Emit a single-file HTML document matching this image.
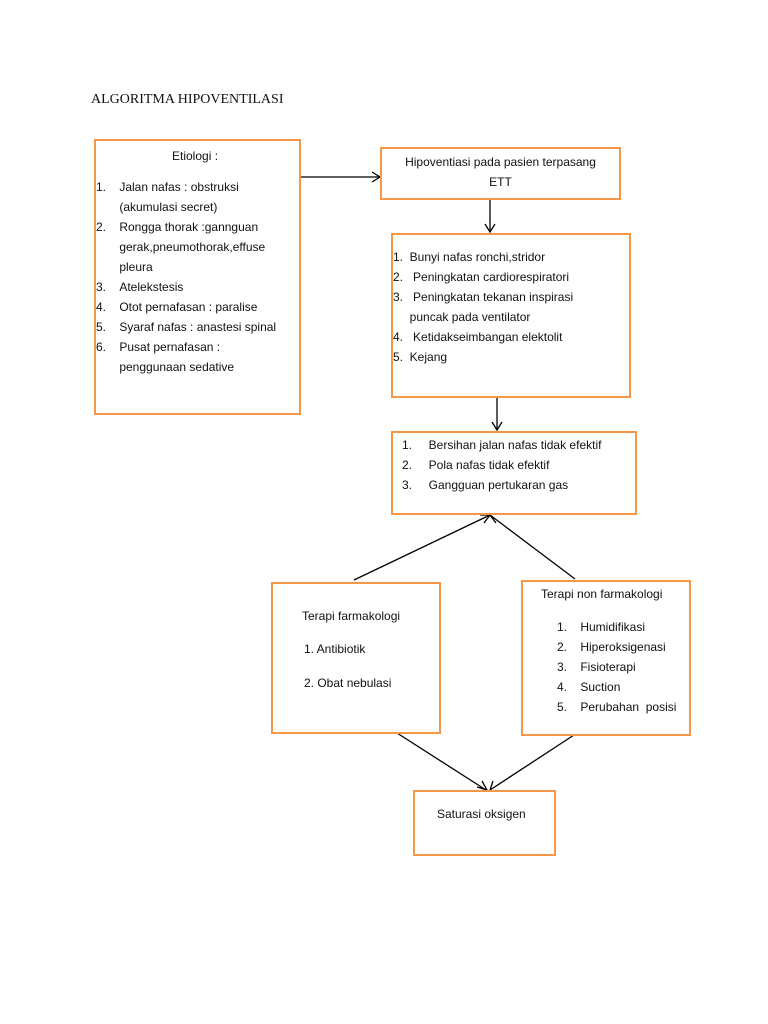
<!DOCTYPE html>
<html><head><meta charset="utf-8"><style>
body{margin:0;width:768px;height:1024px;background:#fff;position:relative;font-family:"Liberation Sans",sans-serif;color:#111}
.b{position:absolute;border:2.5px solid #f79646;box-sizing:border-box;background:#fff}
.t{position:absolute;font-size:12px;line-height:20px;white-space:nowrap}
h1{position:absolute;left:91px;top:92px;margin:0;font:14px "Liberation Serif",serif}
</style></head><body>
<h1>ALGORITMA HIPOVENTILASI</h1>
<svg width="768" height="1024" style="position:absolute;left:0;top:0">
<g stroke="#000" stroke-width="1.3" fill="none">
<line x1="300" y1="177" x2="380" y2="177"/><polyline points="372,172 380,177 372,182"/>
<line x1="490" y1="199" x2="490" y2="232"/><polyline points="485,224 490,232 495,224"/>
<line x1="497" y1="397" x2="497" y2="430"/><polyline points="492,422 497,430 502,422"/>
<line x1="354" y1="580" x2="490" y2="515"/><line x1="575" y1="579" x2="490" y2="515"/>
<polyline points="480,515 490,515 484,523"/><polyline points="490,515 496,523"/>
<line x1="397" y1="733" x2="486" y2="790"/><line x1="574" y1="735" x2="490" y2="790"/>
<polyline points="477,787 487,790 482,781"/><polyline points="490,790 493,781"/>
</g></svg>
<div class="b" style="left:94px;top:139px;width:207px;height:276px"></div>
<div class="t" style="left:172px;top:146px">Etiologi :</div>
<div class="t" style="left:96px;top:177px">1.&nbsp;&nbsp;&nbsp;&nbsp;Jalan nafas : obstruksi<br>&nbsp;&nbsp;&nbsp;&nbsp;&nbsp;&nbsp;&nbsp;(akumulasi secret)<br>2.&nbsp;&nbsp;&nbsp;&nbsp;Rongga thorak :gannguan<br>&nbsp;&nbsp;&nbsp;&nbsp;&nbsp;&nbsp;&nbsp;gerak,pneumothorak,effuse<br>&nbsp;&nbsp;&nbsp;&nbsp;&nbsp;&nbsp;&nbsp;pleura<br>3.&nbsp;&nbsp;&nbsp;&nbsp;Atelekstesis<br>4.&nbsp;&nbsp;&nbsp;&nbsp;Otot pernafasan : paralise<br>5.&nbsp;&nbsp;&nbsp;&nbsp;Syaraf nafas : anastesi spinal<br>6.&nbsp;&nbsp;&nbsp;&nbsp;Pusat pernafasan :<br>&nbsp;&nbsp;&nbsp;&nbsp;&nbsp;&nbsp;&nbsp;penggunaan sedative</div>
<div class="b" style="left:380px;top:147px;width:241px;height:53px"></div>
<div class="t" style="left:380px;width:241px;text-align:center;top:152px">Hipoventiasi pada pasien terpasang<br>ETT</div>
<div class="b" style="left:391px;top:233px;width:240px;height:165px"></div>
<div class="t" style="left:393px;top:247px">1.&nbsp;&nbsp;Bunyi nafas ronchi,stridor<br>2.&nbsp;&nbsp;&nbsp;Peningkatan cardiorespiratori<br>3.&nbsp;&nbsp;&nbsp;Peningkatan tekanan inspirasi<br>&nbsp;&nbsp;&nbsp;&nbsp;&nbsp;puncak pada ventilator<br>4.&nbsp;&nbsp;&nbsp;Ketidakseimbangan elektolit<br>5.&nbsp;&nbsp;Kejang</div>
<div class="b" style="left:391px;top:431px;width:246px;height:84px"></div>
<div class="t" style="left:402px;top:435px">1.&nbsp;&nbsp;&nbsp;&nbsp;&nbsp;Bersihan jalan nafas tidak efektif<br>2.&nbsp;&nbsp;&nbsp;&nbsp;&nbsp;Pola nafas tidak efektif<br>3.&nbsp;&nbsp;&nbsp;&nbsp;&nbsp;Gangguan pertukaran gas</div>
<div class="b" style="left:271px;top:582px;width:170px;height:152px"></div>
<div class="t" style="left:302px;top:606px">Terapi farmakologi</div>
<div class="t" style="left:304px;top:639px">1. Antibiotik</div>
<div class="t" style="left:304px;top:673px">2. Obat nebulasi</div>
<div class="b" style="left:521px;top:580px;width:170px;height:156px"></div>
<div class="t" style="left:541px;top:584px">Terapi non farmakologi</div>
<div class="t" style="left:557px;top:617px">1.&nbsp;&nbsp;&nbsp;&nbsp;Humidifikasi<br>2.&nbsp;&nbsp;&nbsp;&nbsp;Hiperoksigenasi<br>3.&nbsp;&nbsp;&nbsp;&nbsp;Fisioterapi<br>4.&nbsp;&nbsp;&nbsp;&nbsp;Suction<br>5.&nbsp;&nbsp;&nbsp;&nbsp;Perubahan&nbsp;&nbsp;posisi</div>
<div class="b" style="left:413px;top:790px;width:143px;height:66px"></div>
<div class="t" style="left:437px;top:804px">Saturasi oksigen</div>
</body></html>
